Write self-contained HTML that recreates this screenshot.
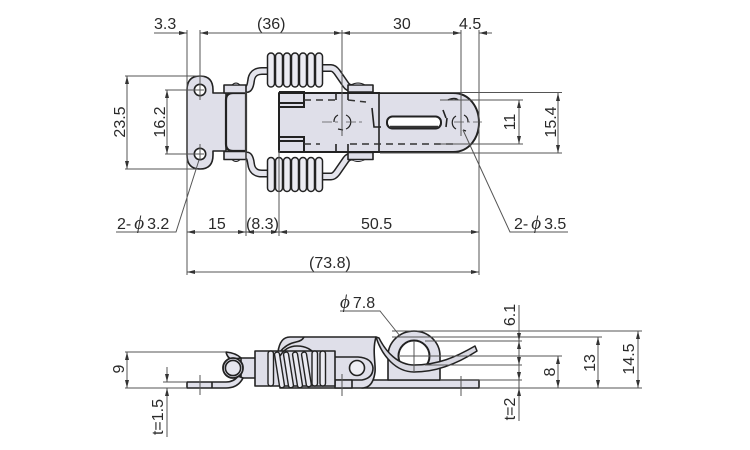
<!DOCTYPE html>
<html><head><meta charset="utf-8"><style>
html,body{margin:0;padding:0;background:#fff}
svg{display:block}
text{font-family:"Liberation Sans",sans-serif;font-size:16px;fill:#2a2a2a}
.ph{font-family:"Liberation Serif",serif;font-style:italic;font-size:19px}
.d{stroke:#555;stroke-width:1;fill:none}
.o{stroke:#222;stroke-width:1.6;fill:#dfdfe9;stroke-linejoin:round}
.l{stroke:#222;stroke-width:1.6;fill:none}
.da{stroke:#333;stroke-width:1.5;fill:none;stroke-dasharray:7 5}
.c{stroke:#222;stroke-width:1.5;fill:#ebebf2}
.w1{stroke:#222;stroke-width:8;fill:none;stroke-linejoin:round}
.w2{stroke:#e4e4ec;stroke-width:5;fill:none;stroke-linejoin:round}
</style></head><body>
<svg width="750" height="450" viewBox="0 0 750 450" xmlns="http://www.w3.org/2000/svg">
<defs>
<marker id="me" markerWidth="9" markerHeight="6" refX="8" refY="3" orient="auto" markerUnits="userSpaceOnUse"><path d="M0,1 L8,3 L0,5 Z" fill="#333"/></marker>
<marker id="ms" markerWidth="9" markerHeight="6" refX="0" refY="3" orient="auto" markerUnits="userSpaceOnUse"><path d="M8,1 L0,3 L8,5 Z" fill="#333"/></marker>
<g id="spring">
<path class="w1" d="M242,89 L247,89 Q250,89 251,81 Q252,71 262,71 L270,71"/>
<path class="w2" d="M242,89 L247,89 Q250,89 251,81 Q252,71 262,71 L270,71"/>
<path class="o" d="M224,85 L246,85 L246,93 L224,93 Z"/>
<path d="M232,85 Q236,81 240,85 Z" fill="#cfcfd8" stroke="#222" stroke-width="1"/>
<path class="w1" d="M320,68 L331,68 Q334,68 337,72 L346,85 Q348,88 352,88 L360,88"/>
<path class="w2" d="M320,68 L331,68 Q334,68 337,72 L346,85 Q348,88 352,88 L360,88"/>
<path class="o" d="M348,85 L373,85 L373,92 L348,92 Z"/>
<path d="M351,85 Q358,81 365,85 Z" fill="#cfcfd8" stroke="#222" stroke-width="1"/>
<g>
<rect class="c" x="267.500" y="53" width="7" height="34" rx="3.5"/>
<rect class="c" x="275.500" y="53" width="7" height="34" rx="3.5"/>
<rect class="c" x="283.500" y="53" width="7" height="34" rx="3.5"/>
<rect class="c" x="291.500" y="53" width="7" height="34" rx="3.5"/>
<rect class="c" x="299.500" y="53" width="7" height="34" rx="3.5"/>
<rect class="c" x="307.500" y="53" width="7" height="34" rx="3.5"/>
<rect class="c" x="315.500" y="53" width="7" height="34" rx="3.5"/>
</g>
</g>
</defs>

<!-- top view: plate -->
<path class="o" d="M187,90 Q187,76 200,76 Q213,76 213,90 L213,93 L226,93 L226,151 L213,151 L213,155 Q213,169 200,169 Q187,169 187,155 Z"/>
<path class="o" d="M226,100 Q226,93 233,93 L246,93 L246,151 L233,151 Q226,151 226,144 Z" style="stroke-width:2.2"/>

<!-- top view: latch -->
<path class="o" d="M279,93 L453,93 C470,93 479,108 479,122.5 C479,137 470,152 453,152 L279,152 Z" style="stroke-width:2"/>
<path class="l" d="M279,93 L279,152 M279,92 L304,92 L304,107 L279,107 M279,103 L304,103 M279,152 L304,152 L304,137 L279,137 M279,141 L304,141" style="stroke-width:2"/>
<path class="l" d="M379,93 V152"/>
<path class="da" d="M304,100 H336 M304,144 H320 M350,144 H458 M348,100 L366,102"/>
<path class="l" d="M336,93 V100 M336,144 V152 M348,93 V100 M348,144 V152 M372,108 L374,127 L381,127"/>
<rect x="387" y="116.500" width="54" height="12" rx="5.500" fill="#fff" stroke="#222" stroke-width="2"/>
<path d="M390,127 H438" stroke="#333" stroke-width="2.500"/>
<path class="l" d="M448,100 Q455,97 458,100 M447,118 L446,127 M443,110 L446,118"/>
<path class="l" d="M346,115 A7.500,7.500 0 0 1 346,129 M338,115 A7.500,7.500 0 0 0 334,122 M338,129 L343,130 M464,115 A7.500,7.500 0 0 1 468,122 M456,116 A7.500,7.500 0 0 0 456,129 M463,130 L466,131" style="stroke-width:1.2"/>
<path d="M322,122 H338 M346,122 H364 M454,122 H482 M342,108 V136 M461,108 V136" stroke="#555" stroke-width="0.8" stroke-dasharray="10 3 3 3" fill="none"/>

<use href="#spring"/>
<use href="#spring" transform="translate(0,244.500) scale(1,-1)"/>

<circle cx="200" cy="90" r="5.700" fill="#fff" stroke="#222" stroke-width="1.600"/>
<circle cx="200" cy="154" r="5.700" fill="#fff" stroke="#222" stroke-width="1.600"/>

<!-- top dims -->
<path class="d" d="M187,30 V275 M200,30 V100 M200,144 V160 M342,30 V136 M461,30 V136 M479,30 V275 M246,92 V236 M279,150 V236"/>
<path class="d" d="M125,76 H204 M165,90 H204 M165,154 H204 M125,169 H198"/>
<path class="d" d="M154,33 H187" marker-end="url(#me)"/>
<path class="d" d="M200,33 H342" marker-start="url(#ms)" marker-end="url(#me)"/>
<path class="d" d="M342,33 H461" marker-start="url(#ms)" marker-end="url(#me)"/>
<path class="d" d="M479,33 H492" marker-start="url(#ms)"/>
<path class="d" d="M127,76 V169" marker-start="url(#ms)" marker-end="url(#me)"/>
<path class="d" d="M167,90 V154" marker-start="url(#ms)" marker-end="url(#me)"/>
<path class="d" d="M519,100 V144" marker-start="url(#ms)" marker-end="url(#me)"/>
<path class="d" d="M558,93 V153" marker-start="url(#ms)" marker-end="url(#me)"/>
<path class="d" d="M380,92.500 H562 M380,153 H562 M440,100 H523 M440,144 H523"/>
<path class="d" d="M187,232 H246" marker-start="url(#ms)" marker-end="url(#me)"/>
<path class="d" d="M246,232 H279" marker-start="url(#ms)" marker-end="url(#me)"/>
<path class="d" d="M279,232 H479" marker-start="url(#ms)" marker-end="url(#me)"/>
<path class="d" d="M187,272 H479" marker-start="url(#ms)" marker-end="url(#me)"/>
<path class="d" d="M116,232 H176 L199,160 M568,232 H510 L463,130"/>

<text x="154" y="29">3.3</text>
<text x="257" y="29">(36)</text>
<text x="393" y="29">30</text>
<text x="459" y="29">4.5</text>
<text transform="translate(125,122) rotate(-90)" text-anchor="middle">23.5</text>
<text transform="translate(165,122) rotate(-90)" text-anchor="middle">16.2</text>
<text transform="translate(515,122) rotate(-90)" text-anchor="middle">11</text>
<text transform="translate(556,122) rotate(-90)" text-anchor="middle">15.4</text>
<text x="117" y="229">2-<tspan class="ph" dx="3">ϕ</tspan><tspan dx="3">3.2</tspan></text>
<text x="208" y="229">15</text>
<text x="246" y="229">(8.3)</text>
<text x="361" y="229">50.5</text>
<text x="309" y="268">(73.8)</text>
<text x="514" y="229">2-<tspan class="ph" dx="3">ϕ</tspan><tspan dx="3">3.5</tspan></text>

<!-- side view -->
<path class="o" d="M372,380 H479 V388 H362 Z"/>
<path class="o" d="M388,380 V356 A26,25 0 0 1 440,356 V380 Z"/>
<circle cx="414" cy="356" r="15.500" fill="#fff" stroke="#222" stroke-width="2"/>
<path class="o" d="M290,337 H376 C372,350 376,365 375,372 Q373,388 362,388 H280 L278,352 Q280,337 290,337 Z"/>
<path class="l" d="M280,352 Q286,344 296,342 Q302,341 304,337"/>
<path class="l" d="M335,357 H358 Q372,358 373,368 Q373,378 362,380 H335"/>
<circle cx="357" cy="368" r="7.500" fill="#eeeef4" stroke="#222" stroke-width="1.600"/>
<rect x="335" y="380" width="17" height="8" class="o"/>
<path class="o" d="M241,358 H256 V378 H241 Z"/>
<rect class="o" x="255" y="351" width="80" height="35"/>
<path class="o" d="M187,382 H226 Q234,382 238,376 L243,378 Q238,388 226,388 H187 Z"/>
<path class="l" d="M212,382 V388"/>
<path class="o" d="M226,352 Q236,353 241,358 L234,359 Q228,360 226,352 Z"/>
<circle cx="233" cy="368" r="10" fill="#dfdfe9" stroke="#222" stroke-width="1.800"/>
<circle cx="233" cy="368" r="7.600" fill="#e6e6ee" stroke="#222" stroke-width="1.600"/>
<path class="l" d="M280,356 Q286,346 297,346 Q310,346 316,356"/>
<g fill="#ebebf2" stroke="#222" stroke-width="1.400">
<rect x="268" y="351" width="5.500" height="35" rx="2.700"/>
<rect x="277" y="352" width="5" height="36" rx="2.500" transform="rotate(-9 279 370)"/>
<rect x="286" y="352" width="5" height="36" rx="2.500" transform="rotate(-9 288 370)"/>
<rect x="295" y="352" width="5" height="36" rx="2.500" transform="rotate(-9 297 370)"/>
<rect x="304" y="352" width="5" height="35" rx="2.500" transform="rotate(-9 306 370)"/>
<rect x="312" y="351" width="5.500" height="35" rx="2.700"/>
<rect x="320" y="351" width="5.500" height="35" rx="2.700"/>
</g>
<path d="M376,337 C382,356 396,372 414,372 C438,372 460,362 477,351 L475,346 C456,357 438,365 414,365 C398,365 386,352 379,338 Z" fill="#d9d9e2" stroke="#222" stroke-width="1.500" stroke-linejoin="round"/>

<!-- side dims -->
<path class="d" d="M125,352 H226 M125,388 H187 M163,382 H187 M414,341 V372 M400,356 H430 M200,375 V395 M342,374 V396 M461,376 V396"/>
<path class="d" d="M127,352 V388" marker-start="url(#ms)" marker-end="url(#me)"/>
<path class="d" d="M167,367 V382" marker-end="url(#me)"/>
<path class="d" d="M167,388 V437" marker-start="url(#ms)"/>
<path class="d" d="M392,331 H642 M392,337 H602 M425,341 H522 M414,356 H562 M425,365 H522 M440,380 H522 M479,388 H642"/>
<path class="d" d="M519,305 V341" marker-end="url(#me)"/>
<path class="d" d="M519,341 V365" marker-start="url(#ms)" marker-end="url(#me)"/>
<path class="d" d="M519,365 V380" marker-end="url(#me)"/>
<path class="d" d="M519,388 V421" marker-start="url(#ms)"/>
<path class="d" d="M519,380 V388"/>
<path class="d" d="M558,356 V388" marker-start="url(#ms)" marker-end="url(#me)"/>
<path class="d" d="M598,337 V388" marker-start="url(#ms)" marker-end="url(#me)"/>
<path class="d" d="M638,331 V388" marker-start="url(#ms)" marker-end="url(#me)"/>
<path class="d" d="M340,311 H380 L400,336"/>

<text x="340" y="308"><tspan class="ph">ϕ</tspan><tspan dx="3">7.8</tspan></text>
<text transform="translate(124,369) rotate(-90)" text-anchor="middle">9</text>
<text transform="translate(163,417) rotate(-90)" text-anchor="middle">t=1.5</text>
<text transform="translate(515,315) rotate(-90)" text-anchor="middle">6.1</text>
<text transform="translate(515,409) rotate(-90)" text-anchor="middle">t=2</text>
<text transform="translate(555,372) rotate(-90)" text-anchor="middle">8</text>
<text transform="translate(595,363) rotate(-90)" text-anchor="middle">13</text>
<text transform="translate(634,359) rotate(-90)" text-anchor="middle">14.5</text>
</svg>
</body></html>
